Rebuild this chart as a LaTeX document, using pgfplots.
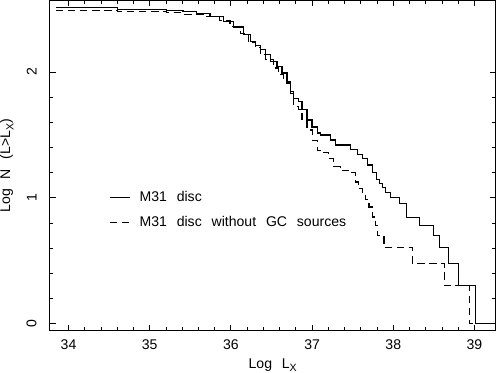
\documentclass[border=0pt]{standalone}
\usepackage{fontspec}
\setmainfont{Liberation Sans}
\usepackage{pgfplots}
\pgfplotsset{compat=1.18}
\newcommand{\pgfont}{\fontsize{14}{17}\selectfont\spaceskip=0.7em plus 0.1em\relax}
\begin{document}
\begin{tikzpicture}[font=\pgfont]
\begin{axis}[
  scale only axis, width=443.8pt, height=329pt,
  xmin=33.77, xmax=39.26, ymin=-0.058, ymax=2.569,
  axis line style={line width=0.9pt},
  tick align=inside, tick pos=both,
  xtick={34,35,36,37,38,39}, ytick={0,1,2},
  minor x tick num=4, minor y tick num=4,
  major tick length=6pt, minor tick length=3.5pt,
  every tick/.style={black, line width=0.8pt},
  /pgf/number format/assume math mode=true,
  tick label style={font=\pgfont},
  xticklabel style={anchor=north, inner sep=0pt},
  xticklabel shift=9pt,
  yticklabel style={rotate=90, anchor=south, inner sep=0pt},
  yticklabel shift=13pt,
  xlabel={Log L\raisebox{-0.45ex}{\fontsize{10.5}{10.5}\selectfont X}},
  ylabel={Log N (L>L\raisebox{-0.45ex}{\fontsize{10.5}{10.5}\selectfont X})},
  every axis x label/.style={at={(axis description cs:0.5,-0.078)}, anchor=north, inner sep=1.5pt, font=\pgfont},
  every axis y label/.style={at={(axis description cs:-0.081,0.5)}, rotate=90, anchor=south, inner sep=0pt, font=\pgfont},
  legend style={draw=none, fill=none, at={(axis cs:34.50,0.902)}, anchor=west,
    inner sep=0pt, row sep=12pt, column sep=9pt, font=\pgfont,
    nodes={inner sep=0pt, text height=10pt, text depth=3pt}},
  legend cell align=left,
  legend image code/.code={\draw[#1] (0pt,0pt) -- (20pt,0pt);},
]
\addplot[const plot, black, line width=1.2pt] coordinates {
(33.844,2.511) (34.607,2.498) (35.206,2.490) (35.411,2.479) (35.577,2.463)
(35.742,2.439) (35.906,2.402) (36.030,2.358) (36.154,2.298) (36.237,2.244)
(36.299,2.210) (36.360,2.178) (36.422,2.138) (36.484,2.085) (36.567,2.045)
(36.629,1.992) (36.691,1.912) (36.732,1.845) (36.773,1.792) (36.834,1.765)
(36.876,1.699) (36.938,1.619) (37.000,1.563) (37.062,1.515) (37.103,1.499)
(37.227,1.459) (37.289,1.419) (37.474,1.383) (37.557,1.347) (37.619,1.315)
(37.681,1.260) (37.743,1.200) (37.796,1.146) (37.833,1.114) (37.867,1.079)
(37.907,1.041) (37.969,1.000) (38.081,0.954) (38.164,0.845) (38.320,0.778)
(38.493,0.699) (38.567,0.602) (38.678,0.477) (38.807,0.301) (39.009,0.000)
(39.26,0.000)
};
\addlegendentry{M31 disc}
\addplot[const plot, black, line width=1.1pt, dash pattern=on 7.5pt off 4.5pt] coordinates {
(33.844,2.492) (34.607,2.482) (35.206,2.471) (35.411,2.458) (35.701,2.442)
(35.865,2.410) (35.989,2.362) (36.113,2.306) (36.212,2.234) (36.299,2.192)
(36.360,2.138) (36.422,2.098) (36.525,2.032) (36.583,1.978) (36.649,1.925)
(36.732,1.832) (36.773,1.725) (36.834,1.699) (36.876,1.619) (36.938,1.539)
(37.000,1.459) (37.062,1.379) (37.103,1.358) (37.206,1.313) (37.268,1.246)
(37.350,1.220) (37.474,1.198) (37.536,1.126) (37.577,1.073) (37.619,1.020)
(37.660,0.988) (37.701,0.927) (37.743,0.847) (37.784,0.780) (37.805,0.699)
(37.886,0.602) (38.238,0.477) (38.629,0.301) (38.935,0.000) (39.26,0.000)
};
\addlegendentry{M31 disc without GC sources}
\end{axis}
\end{tikzpicture}
\end{document}
